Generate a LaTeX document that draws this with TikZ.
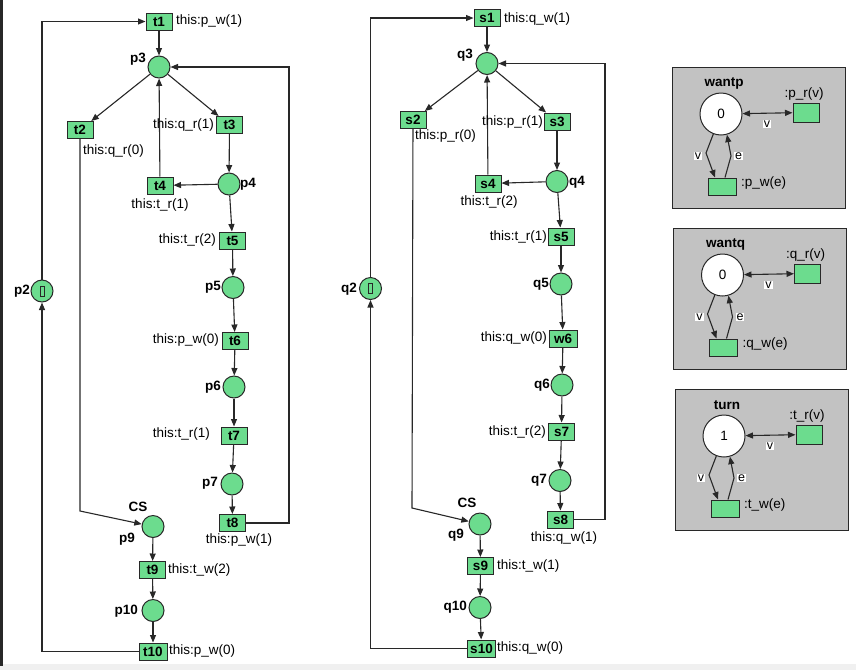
\documentclass[tikz,border=0pt]{standalone}
\usepackage{fontspec}
\setmainfont{Liberation Sans}
\usetikzlibrary{arrows.meta,calc}
\definecolor{pg}{RGB}{108,220,142}
\definecolor{ln}{RGB}{40,40,40}
\definecolor{bx}{RGB}{194,194,194}
\newcommand\sidenet[7]{%
\begin{scope}[shift={(#2,#3)}]
\node[sbox] (#1b) at (758.5,137.5) {};
\node[bigplace] (#1c) at (721,114) {#5};
\node[blbl] (#1n) at (724,83) {#4};
\node[trans,minimum height=19pt] (#1r) at (806,112.5) {};
\node[lbl] (#1rl) at (804,94) {#6};
\node[trans,minimum width=28pt] (#1w) at (722,186.5) {};
\node[lbl,anchor=west] (#1wl) at (741,183) {#7};
\draw[darr] (#1c) -- (#1r);
\node[vlab] (#1v1) at (767,124) {v};
\draw[arc] (#1c.249) -- (706,153) -- ([xshift=-7pt]#1w.north);
\draw[arc] ([xshift=3pt]#1w.north) -- (731,156) -- (#1c.286);
\node[vlab] (#1v2) at (698,156) {v};
\node[vlab] (#1e) at (738.5,156) {e};
\end{scope}}
\begin{document}
\begin{tikzpicture}[x=1pt,y=-1pt,
 font=\fontsize{13.5}{15}\selectfont,
 place/.style={circle,draw=ln,fill=pg,line width=1pt,minimum size=22pt,inner sep=0pt},
 bigplace/.style={circle,draw=ln,fill=white,line width=1pt,minimum size=42pt,inner sep=0pt},
 trans/.style={rectangle,draw=ln,fill=pg,line width=1pt,minimum width=26pt,minimum height=17pt,inner sep=1.5pt,font=\fontsize{13.5}{15}\selectfont\bfseries},
 tok/.style={rectangle,draw=ln,fill=pg,line width=0.9pt,minimum width=4pt,minimum height=10pt,inner sep=0pt},
 sbox/.style={rectangle,draw=ln,fill=bx,line width=1pt,minimum width=173pt,minimum height=141pt,inner sep=0pt},
 lbl/.style={inner sep=0pt},
 blbl/.style={inner sep=0pt,font=\fontsize{13.5}{15}\selectfont\bfseries},
 vlab/.style={fill=white,inner sep=1pt,font=\fontsize{12.5}{14}\selectfont},
 arc/.style={draw=ln,line width=1.1pt,-{Triangle[length=7.5pt,width=6pt]}},
 darr/.style={draw=ln,line width=1.1pt,{Triangle[length=7.5pt,width=6pt]}-{Triangle[length=7.5pt,width=6pt]}}
]
\useasboundingbox (0,0) rectangle (856,670);
\fill[white] (0,0) rectangle (856,670);
\fill[gray!12] (0,664) rectangle (856,670);
\fill[ln] (0,0) rectangle (2.5,666);

% ---------- left net ----------
\node[trans] (t1) at (159,21.5) {t1};
\node[place] (p3) at (159,67) {};
\node[trans] (t2) at (80,130) {t2};
\node[trans] (t3) at (229.5,125) {t3};
\node[trans] (t4) at (160,185.5) {t4};
\node[place] (p4) at (229,184) {};
\node[trans] (t5) at (232.5,240.5) {t5};
\node[place] (p5) at (233,287.5) {};
\node[trans] (t6) at (235,341) {t6};
\node[place] (p6) at (234,387) {};
\node[trans] (t7) at (234,435.5) {t7};
\node[place] (p7) at (232,484) {};
\node[trans] (t8) at (232.5,523) {t8};
\node[place] (p9) at (153,526.5) {};
\node[trans] (t9) at (152.5,570) {t9};
\node[place] (p10) at (153,610.5) {};
\node[trans,minimum width=28pt] (t10) at (153,651.5) {t10};
\node[place] (p2) at (42,291) {};
\node[tok] (p2t) at (42,291) {};

\coordinate (lr) at (289,523);
\coordinate (lk) at (80,511);
\draw[arc] (t1) -- (p3);
\draw[arc] (p3) -- (t2);
\draw[arc] (p3) -- (t3);
\draw[arc] (t3) -- (p4);
\draw[arc] (p4) -- (t4);
\draw[arc] (t4) -- (p3);
\draw[arc] (p4) -- (t5);
\draw[arc] (t5) -- (p5);
\draw[arc] (p5) -- (t6);
\draw[arc] (t6) -- (p6);
\draw[arc] (p6) -- (t7);
\draw[arc] (t7) -- (p7);
\draw[arc] (p7) -- (t8);
\draw[arc] (t8) -- (lr) |- (p3);
\draw[arc] (t2) -- (lk) -- (p9);
\draw[arc] (p9) -- (t9);
\draw[arc] (t9) -- (p10);
\draw[arc] (p10) -- (t10);
\draw[arc] (t10) -| (p2);
\draw[arc] (p2) |- (t1);

\node[lbl,anchor=west] (t1l) at (176,21) {this:p\_w(1)};
\node[blbl,anchor=east] (p3l) at (146,59) {p3};
\node[lbl,anchor=west] (t2l) at (83,151) {this:q\_r(0)};
\node[lbl,anchor=east] (t3l) at (214,125) {this:q\_r(1)};
\node[lbl] (t4l) at (160,205) {this:t\_r(1)};
\node[blbl,anchor=west] (p4l) at (240,184) {p4};
\node[lbl,anchor=east] (t5l) at (216,240) {this:t\_r(2)};
\node[blbl,anchor=east] (p5l) at (221,287) {p5};
\node[lbl,anchor=east] (t6l) at (219,340) {this:p\_w(0)};
\node[blbl,anchor=east] (p6l) at (221,387) {p6};
\node[lbl,anchor=east] (t7l) at (210,434) {this:t\_r(1)};
\node[blbl,anchor=east] (p7l) at (218,483) {p7};
\node[lbl] (t8l) at (239,540) {this:p\_w(1)};
\node[blbl] (csl) at (138,507) {CS};
\node[blbl] (p9l) at (127,539) {p9};
\node[lbl,anchor=west] (t9l) at (168,570) {this:t\_w(2)};
\node[blbl,anchor=east] (p10l) at (138,611) {p10};
\node[lbl,anchor=west] (t10l) at (169,651) {this:p\_w(0)};
\node[blbl,anchor=east] (p2l) at (30,291) {p2};

% ---------- middle net ----------
\node[trans] (s1) at (487,18) {s1};
\node[place] (q3) at (487,63.5) {};
\node[trans] (s2) at (413,120) {s2};
\node[trans] (s3) at (557,121.5) {s3};
\node[trans] (s4) at (488,183.5) {s4};
\node[place] (q4) at (557,181.5) {};
\node[trans] (s5) at (561,236.5) {s5};
\node[place] (q5) at (561,284) {};
\node[trans,minimum width=28pt] (w6) at (563,338.5) {w6};
\node[place] (q6) at (562,385) {};
\node[trans] (s7) at (561.5,431.5) {s7};
\node[place] (q7) at (560,480.5) {};
\node[trans] (s8) at (560.5,519.5) {s8};
\node[place] (q9) at (480,524) {};
\node[trans] (s9) at (480.5,566) {s9};
\node[place] (q10) at (480,607.5) {};
\node[trans,minimum width=28pt] (s10) at (481.5,648.5) {s10};
\node[place] (q2) at (370.5,288.5) {};
\node[tok] (q2t) at (370.5,288.5) {};

\coordinate (mr) at (605,519.5);
\coordinate (mk) at (412,508);
\draw[arc] (s1) -- (q3);
\draw[arc] (q3) -- (s2);
\draw[arc] (q3) -- (s3);
\draw[arc] (s3) -- (q4);
\draw[arc] (q4) -- (s4);
\draw[arc] (s4) -- (q3);
\draw[arc] (q4) -- (s5);
\draw[arc] (s5) -- (q5);
\draw[arc] (q5) -- (w6);
\draw[arc] (w6) -- (q6);
\draw[arc] (q6) -- (s7);
\draw[arc] (s7) -- (q7);
\draw[arc] (q7) -- (s8);
\draw[arc] (s8) -- (mr) |- (q3);
\draw[arc] (s2) -- (mk) -- (q9);
\draw[arc] (q9) -- (s9);
\draw[arc] (s9) -- (q10);
\draw[arc] (q10) -- (s10);
\draw[arc] (s10) -| (q2);
\draw[arc] (q2) |- (s1);

\node[lbl,anchor=west] (s1l) at (504,19) {this:q\_w(1)};
\node[blbl,anchor=east] (q3l) at (473,55) {q3};
\node[lbl,anchor=west] (s2l) at (415,136) {this:p\_r(0)};
\node[lbl,anchor=east] (s3l) at (543,122) {this:p\_r(1)};
\node[lbl] (s4l) at (489,202) {this:t\_r(2)};
\node[blbl,anchor=west] (q4l) at (569,182) {q4};
\node[lbl,anchor=east] (s5l) at (547,237) {this:t\_r(1)};
\node[blbl,anchor=east] (q5l) at (549,284) {q5};
\node[lbl,anchor=east] (w6l) at (547,338) {this:q\_w(0)};
\node[blbl,anchor=east] (q6l) at (550,385) {q6};
\node[lbl,anchor=east] (s7l) at (546,432) {this:t\_r(2)};
\node[blbl,anchor=east] (q7l) at (547,480) {q7};
\node[lbl] (s8l) at (564,538) {this:q\_w(1)};
\node[blbl] (cs2l) at (467,503) {CS};
\node[blbl] (q9l) at (456,535) {q9};
\node[lbl,anchor=west] (s9l) at (497,566) {this:t\_w(1)};
\node[blbl,anchor=east] (q10l) at (467,607) {q10};
\node[lbl,anchor=west] (s10l) at (497,648) {this:q\_w(0)};
\node[blbl,anchor=east] (q2l) at (357,289) {q2};

% ---------- side nets ----------
\sidenet{wp}{0}{0}{wantp}{0}{:p\_r(v)}{:p\_w(e)}
\sidenet{wq}{1.5}{161}{wantq}{0}{:q\_r(v)}{:q\_w(e)}
\sidenet{tu}{3}{322}{turn}{1}{:t\_r(v)}{:t\_w(e)}
\end{tikzpicture}
\end{document}
